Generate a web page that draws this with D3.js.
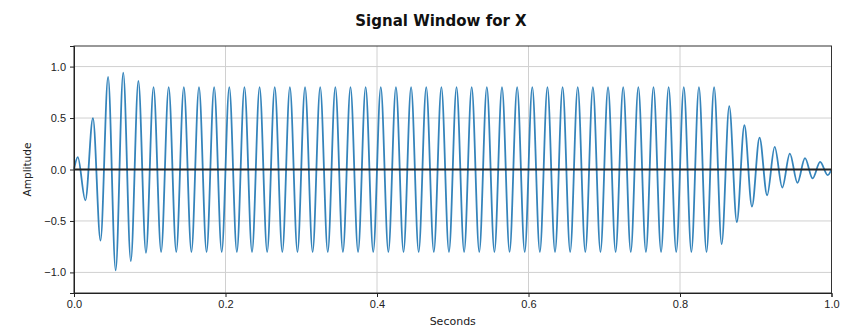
<!DOCTYPE html>
<html>
<head>
<meta charset="utf-8">
<script src="https://cdn.jsdelivr.net/npm/d3@7.9.0/dist/d3.min.js"></script>
<style>
  html, body { margin: 0; padding: 0; background: #fff; }
  svg { display: block; font-family: "DejaVu Sans", sans-serif; }
  .tick text { font-size: 11px; fill: #222; }
</style>
</head>
<body>
<svg id="chart" width="844" height="328"></svg>
<script>
// sample times (s) of each crest / trough, plus both ends
const times = [
  0.000,
  0.005, 0.015, 0.025, 0.035, 0.045, 0.055, 0.065, 0.075, 0.085, 0.095,
  0.105, 0.115, 0.125, 0.135, 0.145, 0.155, 0.165, 0.175, 0.185, 0.195,
  0.205, 0.215, 0.225, 0.235, 0.245, 0.255, 0.265, 0.275, 0.285, 0.295,
  0.305, 0.315, 0.325, 0.335, 0.345, 0.355, 0.365, 0.375, 0.385, 0.395,
  0.405, 0.415, 0.425, 0.435, 0.445, 0.455, 0.465, 0.475, 0.485, 0.495,
  0.505, 0.515, 0.525, 0.535, 0.545, 0.555, 0.565, 0.575, 0.585, 0.595,
  0.605, 0.615, 0.625, 0.635, 0.645, 0.655, 0.665, 0.675, 0.685, 0.695,
  0.705, 0.715, 0.725, 0.735, 0.745, 0.755, 0.765, 0.775, 0.785, 0.795,
  0.805, 0.815, 0.825, 0.835, 0.845, 0.855, 0.865, 0.875, 0.885, 0.895,
  0.905, 0.915, 0.925, 0.935, 0.945, 0.955, 0.965, 0.975, 0.985, 0.995,
  1.000
];

// amplitude at those times
const amplitude = [
  0,
  0.12, -0.30, 0.50, -0.69, 0.90, -0.98, 0.94, -0.89, 0.86, -0.81,
  0.80, -0.80, 0.80, -0.80, 0.80, -0.80, 0.80, -0.80, 0.80, -0.80,
  0.80, -0.80, 0.80, -0.80, 0.80, -0.80, 0.80, -0.80, 0.80, -0.80,
  0.80, -0.80, 0.80, -0.80, 0.80, -0.80, 0.80, -0.80, 0.80, -0.80,
  0.80, -0.80, 0.80, -0.80, 0.80, -0.80, 0.80, -0.80, 0.80, -0.80,
  0.80, -0.80, 0.80, -0.80, 0.80, -0.80, 0.80, -0.80, 0.80, -0.80,
  0.80, -0.80, 0.80, -0.80, 0.80, -0.80, 0.80, -0.80, 0.80, -0.80,
  0.80, -0.80, 0.80, -0.80, 0.80, -0.80, 0.80, -0.80, 0.80, -0.80,
  0.80, -0.80, 0.80, -0.80, 0.80, -0.725, 0.615, -0.51, 0.43, -0.36,
  0.31, -0.25, 0.22, -0.175, 0.155, -0.13, 0.11, -0.087, 0.074, -0.055,
  0
];

const xTicks = [0, 0.2, 0.4, 0.6, 0.8, 1.0];
const yTicks = [-1.0, -0.5, 0.0, 0.5, 1.0];

const W = 844, H = 328;
const margin = { top: 46, right: 12.5, bottom: 35, left: 74 };
const innerW = W - margin.left - margin.right;
const innerH = H - margin.top - margin.bottom;

const svg = d3.select('#chart');
const g = svg.append('g').attr('transform', `translate(${margin.left},${margin.top})`);

const x = d3.scaleLinear().domain([0, 1]).range([0, innerW]);
const y = d3.scaleLinear().domain([-1.2, 1.2]).range([innerH, 0]);

// grid
g.append('g').selectAll('line')
  .data(xTicks)
  .join('line')
  .attr('x1', d => x(d)).attr('x2', d => x(d))
  .attr('y1', 0).attr('y2', innerH)
  .attr('stroke', '#d0d0d0').attr('stroke-width', 1);

g.append('g').selectAll('line')
  .data(yTicks)
  .join('line')
  .attr('x1', 0).attr('x2', innerW)
  .attr('y1', d => y(d)).attr('y2', d => y(d))
  .attr('stroke', '#d0d0d0').attr('stroke-width', 1);

// signal
const pts = times.map((t, i) => [t, amplitude[i]]);
const line = d3.line()
  .x(d => x(d[0]))
  .y(d => y(d[1]))
  .curve(d3.curveMonotoneX);

g.append('path')
  .datum(pts)
  .attr('d', line)
  .attr('fill', 'none')
  .attr('stroke', '#1f77b4')
  .attr('stroke-width', 1.8)
  .attr('stroke-opacity', 0.9);

// zero line
g.append('line')
  .attr('x1', 0).attr('x2', innerW)
  .attr('y1', y(0)).attr('y2', y(0))
  .attr('stroke', '#222').attr('stroke-width', 2);

// frame
g.append('rect')
  .attr('width', innerW).attr('height', innerH)
  .attr('fill', 'none').attr('stroke', '#333').attr('stroke-width', 1);

// axes
const xAxis = g.append('g')
  .attr('transform', `translate(0,${innerH})`)
  .call(d3.axisBottom(x).tickValues(xTicks).tickFormat(d3.format('.1f')).tickSizeOuter(0).tickSize(4).tickPadding(3));
const yAxis = g.append('g')
  .call(d3.axisLeft(y).tickValues(yTicks).tickFormat(d3.format('.1f')).tickSizeOuter(0).tickSize(4).tickPadding(4));
[xAxis, yAxis].forEach(a => {
  a.select('.domain').attr('stroke', '#222');
  a.selectAll('.tick line').attr('stroke', '#222');
});

// labels
svg.append('text')
  .attr('x', 441).attr('y', 26)
  .attr('text-anchor', 'middle')
  .attr('font-size', 15).attr('font-weight', 'bold')
  .attr('fill', '#111')
  .text('Signal Window for X');

svg.append('text')
  .attr('x', margin.left + innerW / 2).attr('y', 325)
  .attr('text-anchor', 'middle')
  .attr('font-size', 11).attr('fill', '#222')
  .text('Seconds');

svg.append('text')
  .attr('transform', `translate(31,${margin.top + innerH / 2}) rotate(-90)`)
  .attr('text-anchor', 'middle')
  .attr('font-size', 10.5).attr('fill', '#222')
  .text('Amplitude');
</script>
</body>
</html>
